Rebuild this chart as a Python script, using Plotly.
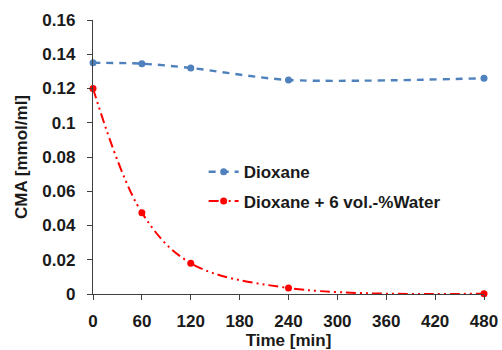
import plotly.graph_objects as go

time = [0, 60, 120, 240, 480]
dioxane = [0.135, 0.1345, 0.132, 0.125, 0.126]
dioxane_water = [0.120, 0.0475, 0.018, 0.0035, 0.0002]

xticks = [0, 60, 120, 180, 240, 300, 360, 420, 480]
yticks = [0, 0.02, 0.04, 0.06, 0.08, 0.1, 0.12, 0.14, 0.16]
yticklabels = ["0", "0.02", "0.04", "0.06", "0.08", "0.1", "0.12", "0.14", "0.16"]

font = "Liberation Sans, Arial, sans-serif"
fs = 17

fig = go.Figure()
fig.add_trace(go.Scatter(
    x=time, y=dioxane, mode="lines+markers", name="<b>Dioxane</b>", legendgroup="a",
    line=dict(color="#4F81BD", width=2.4, dash="7px,6px", shape="spline", smoothing=0.8),
    marker=dict(size=7, color="#4F81BD"), cliponaxis=False,
))
fig.add_trace(go.Scatter(
    x=time, y=dioxane_water, mode="lines+markers", name="<b>Dioxane + 6 vol.-%Water</b>", legendgroup="b",
    line=dict(color="#FF0000", width=2, dash="10px,4px,2px,4px,2px,4px", shape="spline", smoothing=1.0),
    marker=dict(size=7, color="#FF0000"), cliponaxis=False,
))

axis_common = dict(
    showgrid=False, zeroline=False, showline=True, linecolor="#404040", linewidth=1.3,
    ticks="outside", ticklen=5, tickcolor="#404040", automargin=False,
    tickfont=dict(family=font, size=fs, color="#1a1a1a"),
)
fig.update_xaxes(range=[0, 480], tickvals=xticks, ticktext=[f"<b>{t}</b>" for t in xticks],
                 title=dict(text="<b>Time [min]</b>", font=dict(family=font, size=fs, color="#1a1a1a"), standoff=4),
                 ticklabelstandoff=6, **axis_common)
fig.update_yaxes(range=[0, 0.16], tickvals=yticks, ticktext=[f"<b>{t}</b>" for t in yticklabels],
                 title=dict(text="<b>CMA [mmol/ml]</b>", font=dict(family=font, size=fs, color="#1a1a1a"), standoff=10),
                 ticklabelstandoff=8, **axis_common)

fig.update_layout(
    width=502, height=350,
    margin=dict(l=93, r=18, t=20, b=56),
    paper_bgcolor="white", plot_bgcolor="white",
    showlegend=True,
    legend=dict(x=0.283, y=0.51, xanchor="left", yanchor="top", bgcolor="rgba(0,0,0,0)",
                font=dict(family=font, size=fs, color="#1a1a1a"), itemwidth=30, tracegroupgap=4),
)

fig.write_html("out.html")
